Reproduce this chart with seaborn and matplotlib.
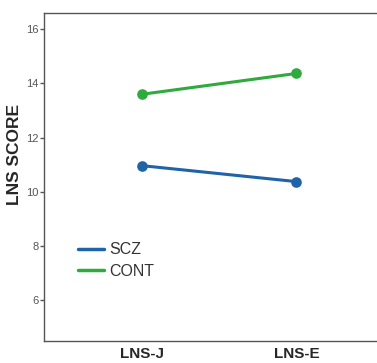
import pandas as pd
import matplotlib
matplotlib.use("Agg")
import matplotlib.pyplot as plt
from matplotlib.lines import Line2D
import seaborn as sns

# data
tasks = ["LNS-J", "LNS-E"]
groups = ["SCZ", "CONT"]
scz_scores = [10.97, 10.38]
cont_scores = [13.6, 14.37]
group_colors = {"SCZ": "#1f63a8", "CONT": "#2faa3c"}

df = pd.DataFrame({
    "task": tasks * 2,
    "group": ["SCZ"] * len(tasks) + ["CONT"] * len(tasks),
    "score": scz_scores + cont_scores,
})

sns.set_style("white")
plt.rcParams["font.family"] = ["Liberation Sans", "DejaVu Sans"]

fig = plt.figure(figsize=(3.77, 3.63), dpi=100)
ax = fig.add_axes([44 / 377, 1 - 341 / 363, 1 - 44 / 377, (341 - 13) / 363])

sns.pointplot(data=df, x="task", y="score", hue="group", order=tasks,
              hue_order=groups, palette=group_colors, errorbar=None,
              markers="o", markersize=6, linewidth=2.2, ax=ax, legend=False)

ax.set_xlim(-0.63, 1.52)
ax.set_ylim(4.5, 16.6)
ax.set_yticks([6, 8, 10, 12, 14, 16])
ax.set_xlabel("")
ax.set_ylabel("LNS SCORE", fontsize=12.5, fontweight="bold")
ax.yaxis.set_label_coords(-0.065, 0.57)

ax.tick_params(axis="y", left=True, length=3, width=1, color="#555555",
               labelsize=8, labelcolor="#555555", pad=1)
ax.tick_params(axis="x", bottom=False, labelsize=11, pad=1)
for lbl in ax.get_xticklabels():
    lbl.set_fontweight("bold")

for side in ["left", "top", "bottom"]:
    ax.spines[side].set_color("#555555")
    ax.spines[side].set_linewidth(1)
ax.spines["right"].set_visible(False)

handles = [Line2D([0], [0], color=group_colors[g], lw=2.5) for g in groups]
ax.legend(handles, groups, loc="upper left", bbox_to_anchor=(0.06, 0.345),
          frameon=False, fontsize=11.5, handlelength=1.6, handletextpad=0.35,
          labelspacing=0.4, labelcolor="#333333")

fig.savefig("out.png", dpi=100)
